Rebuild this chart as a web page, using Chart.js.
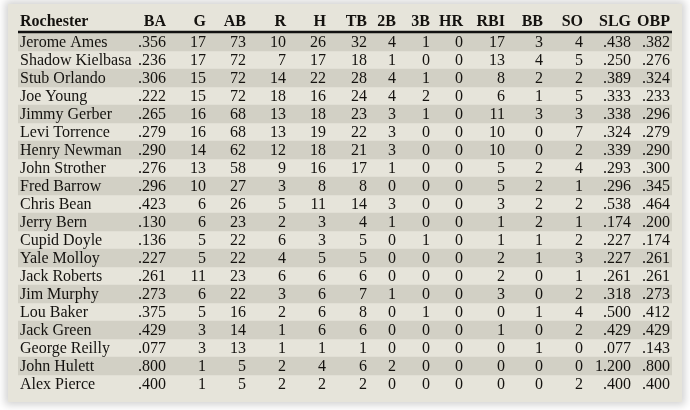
<!DOCTYPE html>
<html><head><meta charset="utf-8">
<script src="https://cdn.jsdelivr.net/npm/chart.js@4"></script>
<style>
html,body{margin:0;padding:0;background:#fff;}
#wrap{position:relative;width:690px;height:410px;}
#panel{position:absolute;left:8px;top:4px;width:674px;height:398px;background:#e6e4da;box-shadow:0 0 8px 3px rgba(0,0,0,0.18);}
canvas{position:absolute;left:0;top:0;}
</style></head><body>
<div id="wrap"><div id="panel"></div><canvas id="c" width="690" height="410"></canvas></div>
<script>
const teamName = "Rochester";
const columns = ["BA","G","AB","R","H","TB","2B","3B","HR","RBI","BB","SO","SLG","OBP"];
const players = ["Jerome Ames","Shadow Kielbasa","Stub Orlando","Joe Young","Jimmy Gerber","Levi Torrence","Henry Newman","John Strother","Fred Barrow","Chris Bean","Jerry Bern","Cupid Doyle","Yale Molloy","Jack Roberts","Jim Murphy","Lou Baker","Jack Green","George Reilly","John Hulett","Alex Pierce"];
const BA  = [".356",".236",".306",".222",".265",".279",".290",".276",".296",".423",".130",".136",".227",".261",".273",".375",".429",".077",".800",".400"];
const G   = [17,17,15,15,16,16,14,13,10,6,6,5,5,11,6,5,3,3,1,1];
const AB  = [73,72,72,72,68,68,62,58,27,26,23,22,22,23,22,16,14,13,5,5];
const R   = [10,7,14,18,13,13,12,9,3,5,2,6,4,6,3,2,1,1,2,2];
const H   = [26,17,22,16,18,19,18,16,8,11,3,3,5,6,6,6,6,1,4,2];
const TB  = [32,18,28,24,23,22,21,17,8,14,4,5,5,6,7,8,6,1,6,2];
const B2  = [4,1,4,4,3,3,3,1,0,3,1,0,0,0,1,0,0,0,2,0];
const B3  = [1,0,1,2,1,0,0,0,0,0,0,1,0,0,0,1,0,0,0,0];
const HR  = [0,0,0,0,0,0,0,0,0,0,0,0,0,0,0,0,0,0,0,0];
const RBI = [17,13,8,6,11,10,10,5,5,3,1,1,2,2,3,0,1,0,0,0];
const BB  = [3,4,2,1,3,0,0,2,2,2,2,1,1,0,0,1,0,1,0,0];
const SO  = [4,5,2,5,3,7,2,4,1,2,1,2,3,1,2,4,2,0,0,2];
const SLG = [".438",".250",".389",".333",".338",".324",".339",".293",".296",".538",".174",".227",".227",".261",".318",".500",".429",".077","1.200",".400"];
const OBP = [".382",".276",".324",".233",".296",".279",".290",".300",".345",".464",".200",".174",".261",".261",".273",".412",".429",".143",".800",".400"];
const colData = [BA,G,AB,R,H,TB,B2,B3,HR,RBI,BB,SO,SLG,OBP];

// style: right edge of each column, in table units (x scale)
const colRight = [148,188,228,268,308,349,378,412,445,487,525,565,613,652];
const nameX = 2;

const tablePlugin = {
  id:'table',
  afterDatasetsDraw(chart){
    const {ctx, scales:{x,y}, chartArea:a} = chart;
    ctx.save();
    ctx.fillStyle = '#14120f';
    ctx.textBaseline = 'middle';
    ctx.font = 'bold 16px "Liberation Serif", serif';
    const hy = a.top - 11;
    ctx.textAlign = 'left';
    ctx.fillText(teamName, x.getPixelForValue(nameX), hy);
    ctx.textAlign = 'right';
    columns.forEach((c,i)=>ctx.fillText(c, x.getPixelForValue(colRight[i]), hy));
    ctx.strokeStyle = '#111'; ctx.lineWidth = 2.5;
    ctx.beginPath(); ctx.moveTo(a.left, a.top-1); ctx.lineTo(a.right, a.top-1); ctx.stroke();
    ctx.font = '16px "Liberation Serif", serif';
    players.forEach((p,r)=>{
      const py = y.getPixelForValue(r) + 1;
      ctx.textAlign = 'left';
      ctx.fillText(p, x.getPixelForValue(nameX), py);
      ctx.textAlign = 'right';
      colData.forEach((arr,i)=>ctx.fillText(String(arr[r]), x.getPixelForValue(colRight[i]), py));
    });
    ctx.restore();
  }
};

new Chart(document.getElementById('c'), {
  type:'bar',
  data:{labels:players, datasets:[{
    data: players.map(()=>[0,654]),
    backgroundColor: players.map((_,i)=> i%2===0 ? '#d2d0c5' : 'rgba(0,0,0,0)'),
    barPercentage:1, categoryPercentage:1, borderWidth:0
  }]},
  options:{
    indexAxis:'y', responsive:false, animation:false, devicePixelRatio:1,
    layout:{padding:{left:18,right:18,top:33,bottom:17}},
    plugins:{legend:{display:false},tooltip:{enabled:false}},
    scales:{
      x:{type:'linear',min:0,max:654,display:false},
      y:{type:'category',display:false,offset:true}
    }
  },
  plugins:[tablePlugin]
});
</script>
</body></html>
